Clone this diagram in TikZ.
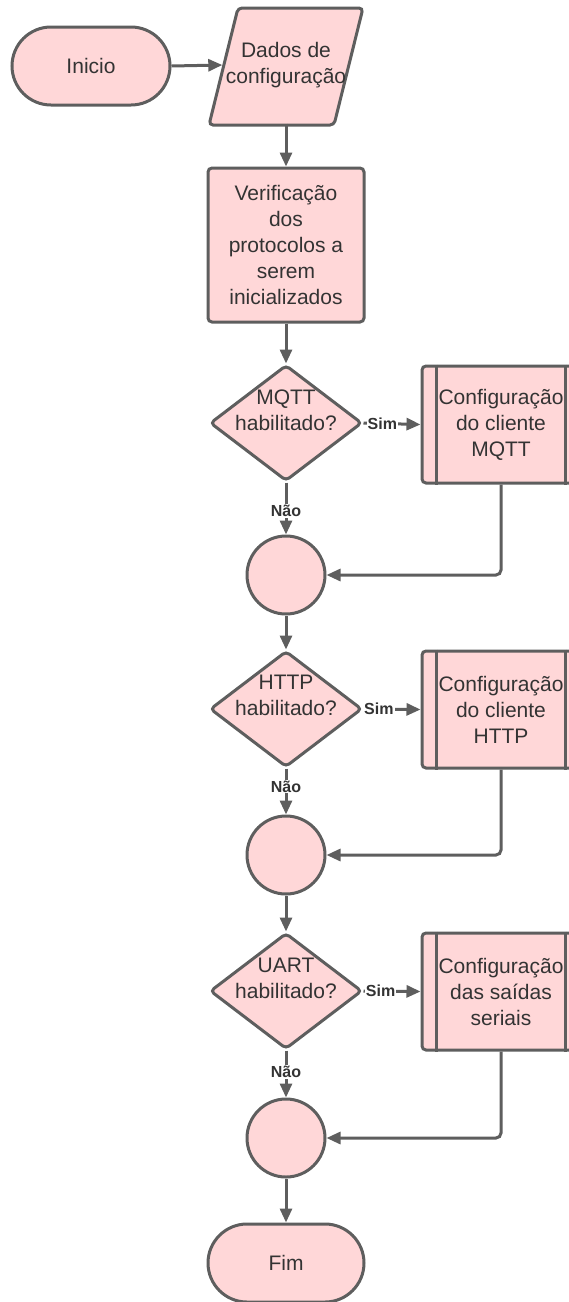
\documentclass[tikz,border=0pt]{standalone}
\usepackage{fontspec}
\setmainfont{Liberation Sans}
\usetikzlibrary{arrows.meta,shapes.geometric}
\definecolor{fillpink}{HTML}{FFD7D8}
\definecolor{strokegray}{HTML}{5E5E5E}
\definecolor{textgray}{HTML}{333333}
\begin{document}
\begin{tikzpicture}[x=1pt,y=-1pt,
  base/.style={draw=strokegray, line width=3pt, fill=fillpink, text=textgray,
    font=\fontsize{21}{26}\selectfont, align=center, inner sep=0pt},
  term/.style={base, rounded corners=39pt, minimum width=158pt, minimum height=78pt},
  proc/.style={base, rounded corners=4pt, minimum width=156pt, minimum height=154pt},
  dec/.style={base, diamond, rounded corners=4pt, minimum width=152pt, minimum height=116pt},
  subp/.style={base, rounded corners=4pt, minimum width=158pt, minimum height=117pt},
  conn/.style={base, circle, minimum size=78pt},
  txt/.style={text=textgray, font=\fontsize{21}{26}\selectfont, align=center, inner sep=0pt},
  arr/.style={draw=strokegray, line width=3pt, -{Triangle[length=14pt,width=12pt]}},
  lbl/.style={fill=white, text=textgray, font=\bfseries\fontsize{16}{19}\selectfont, inner sep=1pt},
  bar/.style={draw=strokegray, line width=3pt}
]
\useasboundingbox (0,0) rectangle (569,1302);
\clip (0,0) rectangle (569,1302);

% start
\node[term] (inicio) at (91,66) {Inicio};

% data (parallelogram)
\draw[base, rounded corners=4pt] (238,8) -- (363,8) -- (334,125) -- (209,125) -- cycle;
\node[txt, minimum width=127pt, minimum height=117pt] (dados) at (286,65) {Dados de\\configuração};

% process
\node[proc] (verif) at (286,245) {Verificação\\dos\\protocolos a\\serem\\inicializados};

% decisions
\node[dec] (d1) at (286,423) {};
\node[txt] (t1) at (286,410) {MQTT\\habilitado?};
\node[dec] (d2) at (286,709) {};
\node[txt] (t2) at (286,695) {HTTP\\habilitado?};
\node[dec] (d3) at (286,991) {};
\node[txt] (t3) at (286,978) {UART\\habilitado?};

% subprocesses
\node[subp] (sp1) at (501,424.5) {Configuração\\do cliente\\MQTT};
\node[subp] (sp2) at (501,709.5) {Configuração\\do cliente\\HTTP};
\node[subp] (sp3) at (501,991.5) {Configuração\\das saídas\\seriais};
\foreach \s in {sp1,sp2,sp3}{
  \draw[bar] ([xshift=16pt]\s.north west) -- ([xshift=16pt]\s.south west);
  \draw[bar] ([xshift=-16pt]\s.north east) -- ([xshift=-16pt]\s.south east);
}

% connectors (circles)
\node[conn] (c1) at (286,575) {};
\node[conn] (c2) at (286,855) {};
\node[conn] (c3) at (286,1138) {};

% end
\node[term, minimum width=156pt] (fim) at (286,1263) {Fim};

% arrows
\draw[arr] (inicio.east) -- (dados.west);
\draw[arr] (dados.south) -- (verif.north);
\draw[arr] (verif.south) -- (d1.north);

\draw[arr] (d1.east) -- node[lbl, pos=0.33] {Sim} (sp1.west);
\draw[arr] (d1.south) -- node[lbl, pos=0.55] {Não} (c1.north);
\draw[arr, rounded corners=5pt] (sp1.south) |- (c1.east);
\draw[arr] (c1.south) -- (d2.north);

\draw[arr] (d2.east) -- node[lbl, pos=0.27] {Sim} (sp2.west);
\draw[arr] (d2.south) -- node[lbl, pos=0.39] {Não} (c2.north);
\draw[arr, rounded corners=5pt] (sp2.south) |- (c2.east);
\draw[arr] (c2.south) -- (d3.north);

\draw[arr] (d3.east) -- node[lbl, pos=0.3] {Sim} (sp3.west);
\draw[arr] (d3.south) -- node[lbl, pos=0.45] {Não} (c3.north);
\draw[arr, rounded corners=5pt] (sp3.south) |- (c3.east);
\draw[arr] (c3.south) -- (fim.north);
\end{tikzpicture}
\end{document}
